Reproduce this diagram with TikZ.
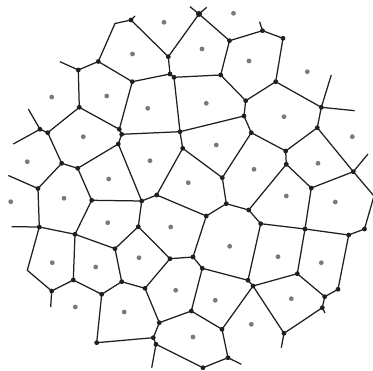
\documentclass[tikz,border=0pt]{standalone}
\begin{document}
\begin{tikzpicture}[x=1pt,y=-1pt,
  edge/.style={line width=1.25pt, draw=black!88, line join=round},
  vdot/.style={fill=black!88},
  sitedot/.style={fill=black!52}]
\useasboundingbox (0,0) rectangle (373,371);
% ---- vertices ----
\coordinate (A1) at (131,20);
\coordinate (A1s) at (135,16);
\coordinate (A2) at (115,23.5);
\coordinate (A3) at (98.3,61.5);
\coordinate (A4) at (78.3,70);
\coordinate (A4s) at (60,61.7);
\coordinate (A5) at (79.3,107.3);
\coordinate (A6) at (132.3,81.7);
\coordinate (A7) at (168.3,56.7);
\coordinate (A8) at (170,74);
\coordinate (A9) at (174,77.3);
\coordinate (A10) at (119.3,129.3);
\coordinate (A11) at (121.7,134.3);
\coordinate (A12) at (118.3,144);
\coordinate (A13) at (180,131.7);
\coordinate (A14) at (182.7,148.3);
\coordinate (A15) at (40,129.3);
\coordinate (A15s) at (28.3,109);
\coordinate (A15l) at (13.3,144);
\coordinate (A16) at (47.7,132.7);
\coordinate (A17) at (61.7,163.3);
\coordinate (A18) at (77.7,168.3);
\coordinate (A19) at (38,188.5);
\coordinate (A19l) at (8.3,175.5);
\coordinate (B1) at (199,14);
\coordinate (B1a) at (190,6.7);
\coordinate (B1b) at (206.7,7.3);
\coordinate (B2) at (229.5,40.7);
\coordinate (B3) at (262.5,30.7);
\coordinate (B3s) at (259.5,21.7);
\coordinate (B4) at (283,38.3);
\coordinate (B5) at (220.7,75);
\coordinate (B6) at (275.7,81.7);
\coordinate (B7) at (245.7,100.7);
\coordinate (B8) at (244,116);
\coordinate (B9) at (321.3,107.3);
\coordinate (B9a) at (331.3,75);
\coordinate (B9b) at (354.7,110.7);
\coordinate (B10) at (317.3,127.7);
\coordinate (B11) at (251.3,132.7);
\coordinate (B12) at (285.7,151);
\coordinate (B13) at (286.3,164.3);
\coordinate (B14) at (353.3,171.7);
\coordinate (B14s) at (368,154);
\coordinate (B14o) at (374,196);
\coordinate (B15) at (311.3,188);
\coordinate (B16) at (222.3,177.7);
\coordinate (C1) at (91.7,200.3);
\coordinate (C3) at (141.7,201);
\coordinate (C4) at (156.7,195);
\coordinate (C5) at (39.3,227);
\coordinate (C5s) at (11.7,226.7);
\coordinate (C6) at (75,234.3);
\coordinate (C7) at (27.3,270.3);
\coordinate (C8) at (51.7,291);
\coordinate (C8s) at (50.7,307);
\coordinate (C9) at (138.3,226.7);
\coordinate (C10) at (115,248.7);
\coordinate (C11) at (73.3,280);
\coordinate (C12) at (121.7,281.7);
\coordinate (C13) at (101.7,294.3);
\coordinate (C14) at (145,288.3);
\coordinate (C15) at (170,258.7);
\coordinate (C16) at (159.3,322.7);
\coordinate (C17) at (153.3,337.7);
\coordinate (C18) at (156,344.3);
\coordinate (C18s) at (151.7,367.7);
\coordinate (C19) at (96.7,342.7);
\coordinate (D1) at (226.3,203.7);
\coordinate (D2) at (206.3,216);
\coordinate (D3) at (248.7,210);
\coordinate (D4) at (193,257);
\coordinate (D5) at (202.3,268.3);
\coordinate (D6) at (191.3,311);
\coordinate (D7) at (260.7,223.7);
\coordinate (D8) at (305,229);
\coordinate (D9) at (248,280.3);
\coordinate (D10) at (253,286);
\coordinate (D11) at (222,329.3);
\coordinate (D12) at (228,357.7);
\coordinate (D12s) at (241.3,364.3);
\coordinate (D13) at (203,367.7);
\coordinate (D14) at (348.7,235);
\coordinate (D15) at (364.5,229);
\coordinate (D16) at (338,289.3);
\coordinate (D17) at (324.7,296.7);
\coordinate (D18) at (297.3,273.7);
\coordinate (D19) at (322.3,307.7);
\coordinate (D19s) at (325,313);
\coordinate (D20) at (284,333.3);
\coordinate (D20s) at (281.3,347.7);
% ---- edges ----
\draw[edge] (A1s) -- (A1) -- (A2) -- (A3) -- (A4) -- (A5) -- (A16);
\draw[edge] (A1) -- (A7) -- (A8) -- (A9) -- (A13) -- (A14) -- (B16) -- (D1) -- (D2) -- (D4) -- (D5) -- (D6) -- (D11) -- (D12) -- (D13);
\draw[edge] (A3) -- (A6) -- (A8);
\draw[edge] (A4s) -- (A4);
\draw[edge] (A5) -- (A10) -- (A11) -- (A13);
\draw[edge] (A6) -- (A10);
\draw[edge] (A9) -- (B5);
\draw[edge] (A11) -- (A12) -- (A18) -- (A17) -- (A16) -- (A15) -- (A15s);
\draw[edge] (A15l) -- (A15);
\draw[edge] (A12) -- (C3);
\draw[edge] (A13) -- (B8);
\draw[edge] (A14) -- (C4);
\draw[edge] (A17) -- (A19) -- (A19l);
\draw[edge] (A19) -- (C5);
\draw[edge] (A18) -- (C1);
\draw[edge] (A7) -- (B1);
\draw[edge] (B1a) -- (B1) -- (B1b);
\draw[edge] (B1) -- (B2) -- (B3) -- (B4) -- (B6) -- (B9) -- (B10) -- (B14) -- (B15) -- (B13);
\draw[edge] (B3s) -- (B3);
\draw[edge] (B2) -- (B5) -- (B7) -- (B6);
\draw[edge] (B7) -- (B8) -- (B11) -- (B12) -- (B10);
\draw[edge] (B9a) -- (B9) -- (B9b);
\draw[edge] (B12) -- (B13) -- (D3);
\draw[edge] (B11) -- (B16);
\draw[edge] (B14s) -- (B14) -- (B14o) -- (D15) -- (D14);
\draw[edge] (C1) -- (C3) -- (C4) -- (D2);
\draw[edge] (C1) -- (C6);
\draw[edge] (C3) -- (C9) -- (C10) -- (C6) -- (C5) -- (C5s);
\draw[edge] (C5) -- (C7) -- (C8) -- (C8s);
\draw[edge] (C8) -- (C11) -- (C6);
\draw[edge] (C9) -- (C15) -- (D4);
\draw[edge] (C10) -- (C12) -- (C13) -- (C11);
\draw[edge] (C12) -- (C14) -- (C15);
\draw[edge] (C13) -- (C19) -- (C17) -- (C16) -- (C14);
\draw[edge] (C16) -- (D6);
\draw[edge] (C17) -- (C18) -- (C18s);
\draw[edge] (C18) -- (D13);
\draw[edge] (D1) -- (D3) -- (D7) -- (D8) -- (B15);
\draw[edge] (D7) -- (D9) -- (D5);
\draw[edge] (D9) -- (D10) -- (D11);
\draw[edge] (D8) -- (D14) -- (D16) -- (D17) -- (D18) -- (D8);
\draw[edge] (D18) -- (D10) -- (D20) -- (D20s);
\draw[edge] (D17) -- (D19) -- (D20);
\draw[edge] (D19) -- (D19s);
\draw[edge] (D12) -- (D12s);
% ---- vertex dots ----
\foreach \v in {A1,A3,A4,A5,A6,A7,A8,A9,A10,A11,A12,A13,A14,A15,A16,A17,A18,A19,
  B1,B2,B3,B4,B5,B6,B7,B8,B9,B10,B11,B12,B13,B14,B15,B16,
  C1,C3,C4,C5,C6,C8,C9,C10,C11,C12,C13,C14,C15,C16,C17,C18,C19,
  D1,D2,D3,D4,D5,D6,D7,D8,D9,D10,D11,D12,D13,D14,D15,D16,D17,D18,D19,D20}
  \fill[vdot] (\v) circle[radius=2.4pt];
\fill[vdot] (B1) circle[radius=3pt];
% ---- sites ----
\foreach \p in {(164,22.3),(132.5,54),(51.7,97),(106.7,96),(147.7,108.3),(83.3,136.7),
  (27.3,161.7),(150,160.7),(108.7,179),(188.3,182.7),(202,49),(249,61),(307.3,71.7),
  (206.3,103.3),(284,116.7),(216.3,145),(352.3,136.7),(318,163.3),(254,169.3),(233.5,13.3),
  (10.7,201.7),(64,198.3),(107.7,222.7),(170.7,227),(52.3,262.7),(95.7,267),(139,257.7),
  (175.7,290.3),(75.3,307),(124.3,312),(286.3,196),(335.3,202),(229.7,246.3),(278,256.7),
  (321.3,262.7),(215.3,300.3),(291.3,298.7),(251.3,324.3),(193,337)}
  \fill[sitedot] \p circle[radius=2.4pt];
\end{tikzpicture}
\end{document}
